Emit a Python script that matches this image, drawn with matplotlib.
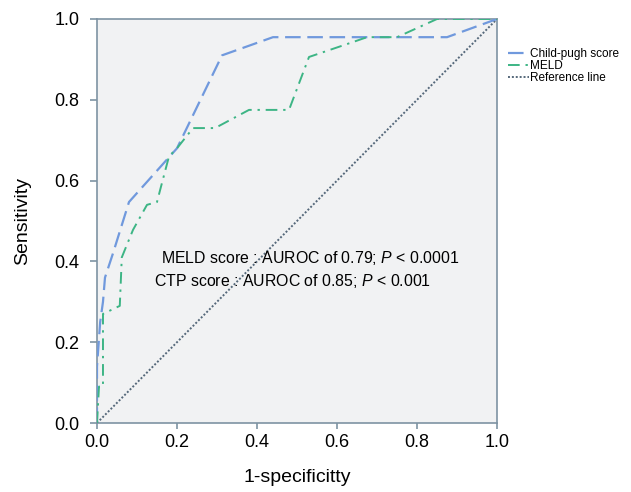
import matplotlib
matplotlib.use("Agg")
import matplotlib.pyplot as plt

# ROC curve points
ctp_fpr = [0.0, 0.0, 0.008, 0.015, 0.02, 0.04, 0.08, 0.2, 0.3125, 0.44, 0.875, 1.0]
ctp_tpr = [0.0, 0.14, 0.25, 0.30, 0.36, 0.42, 0.547, 0.68, 0.91, 0.955, 0.955, 1.0]

meld_fpr = [0.0, 0.005, 0.015, 0.015, 0.057, 0.062, 0.09, 0.125, 0.15, 0.16, 0.18, 0.2,
            0.24, 0.295, 0.38, 0.48, 0.53, 0.64, 0.675, 0.75, 0.85, 1.0]
meld_tpr = [0.0, 0.09, 0.09, 0.27, 0.29, 0.41, 0.478, 0.54, 0.547, 0.585, 0.66, 0.68,
            0.73, 0.73, 0.775, 0.775, 0.906, 0.943, 0.955, 0.955, 1.0, 1.0]

ref_x = [0.0, 1.0]
ref_y = [0.0, 1.0]

ticks = [0.0, 0.2, 0.4, 0.6, 0.8, 1.0]
tick_labels = ["0.0", "0.2", "0.4", "0.6", "0.8", "1.0"]

plt.rcParams["font.family"] = ["Liberation Sans", "DejaVu Sans"]
plt.rcParams["mathtext.fontset"] = "custom"
plt.rcParams["mathtext.it"] = "Liberation Sans:italic"

fig = plt.figure(figsize=(6.31, 4.92), dpi=100)
ax = fig.add_axes([0.1537, 0.1402, 0.634, 0.8212])
ax.set_facecolor("#F1F2F3")

spine_color = "#7E93A3"
for s in ax.spines.values():
    s.set_color(spine_color)
    s.set_linewidth(1.2)

ax.plot(ctp_fpr, ctp_tpr, color="#7099DD", linewidth=1.6, dashes=(7, 3),
        label="Child-pugh score", zorder=3)
ax.plot(meld_fpr, meld_tpr, color="#3DB585", linewidth=1.4, dashes=(6, 3, 1.2, 3),
        label="MELD", zorder=3)
ax.plot(ref_x, ref_y, color="#55687A", linewidth=1.4, dashes=(1, 1),
        label="Reference line", zorder=2)

ax.set_xlim(0, 1)
ax.set_ylim(0, 1)
ax.set_xticks(ticks)
ax.set_xticklabels(tick_labels)
ax.set_yticks(ticks)
ax.set_yticklabels(tick_labels)
ax.tick_params(direction="out", width=1.2, color=spine_color,
               labelsize=13, labelcolor="black")
ax.tick_params(axis="x", length=4, pad=4)
ax.tick_params(axis="y", length=5, pad=7.5)

ax.set_xlabel("1-specificitty", fontsize=14, labelpad=13)
ax.set_ylabel("Sensitivity", fontsize=14, labelpad=17)

ax.text(0.16, 0.409, "MELD score : AUROC of 0.79; $\\it{P}$ < 0.0001",
        transform=ax.transAxes, fontsize=11.4, va="center", ha="left")
ax.text(0.143, 0.351, "CTP score : AUROC of 0.85; $\\it{P}$ < 0.001",
        transform=ax.transAxes, fontsize=11.4, va="center", ha="left")

ax.legend(loc="upper left", bbox_to_anchor=(1.0, 0.955), frameon=False,
          fontsize=8.5, handlelength=1.8, handletextpad=0.1, labelspacing=0.02,
          borderaxespad=0.5)

fig.savefig("out.png", dpi=100)
